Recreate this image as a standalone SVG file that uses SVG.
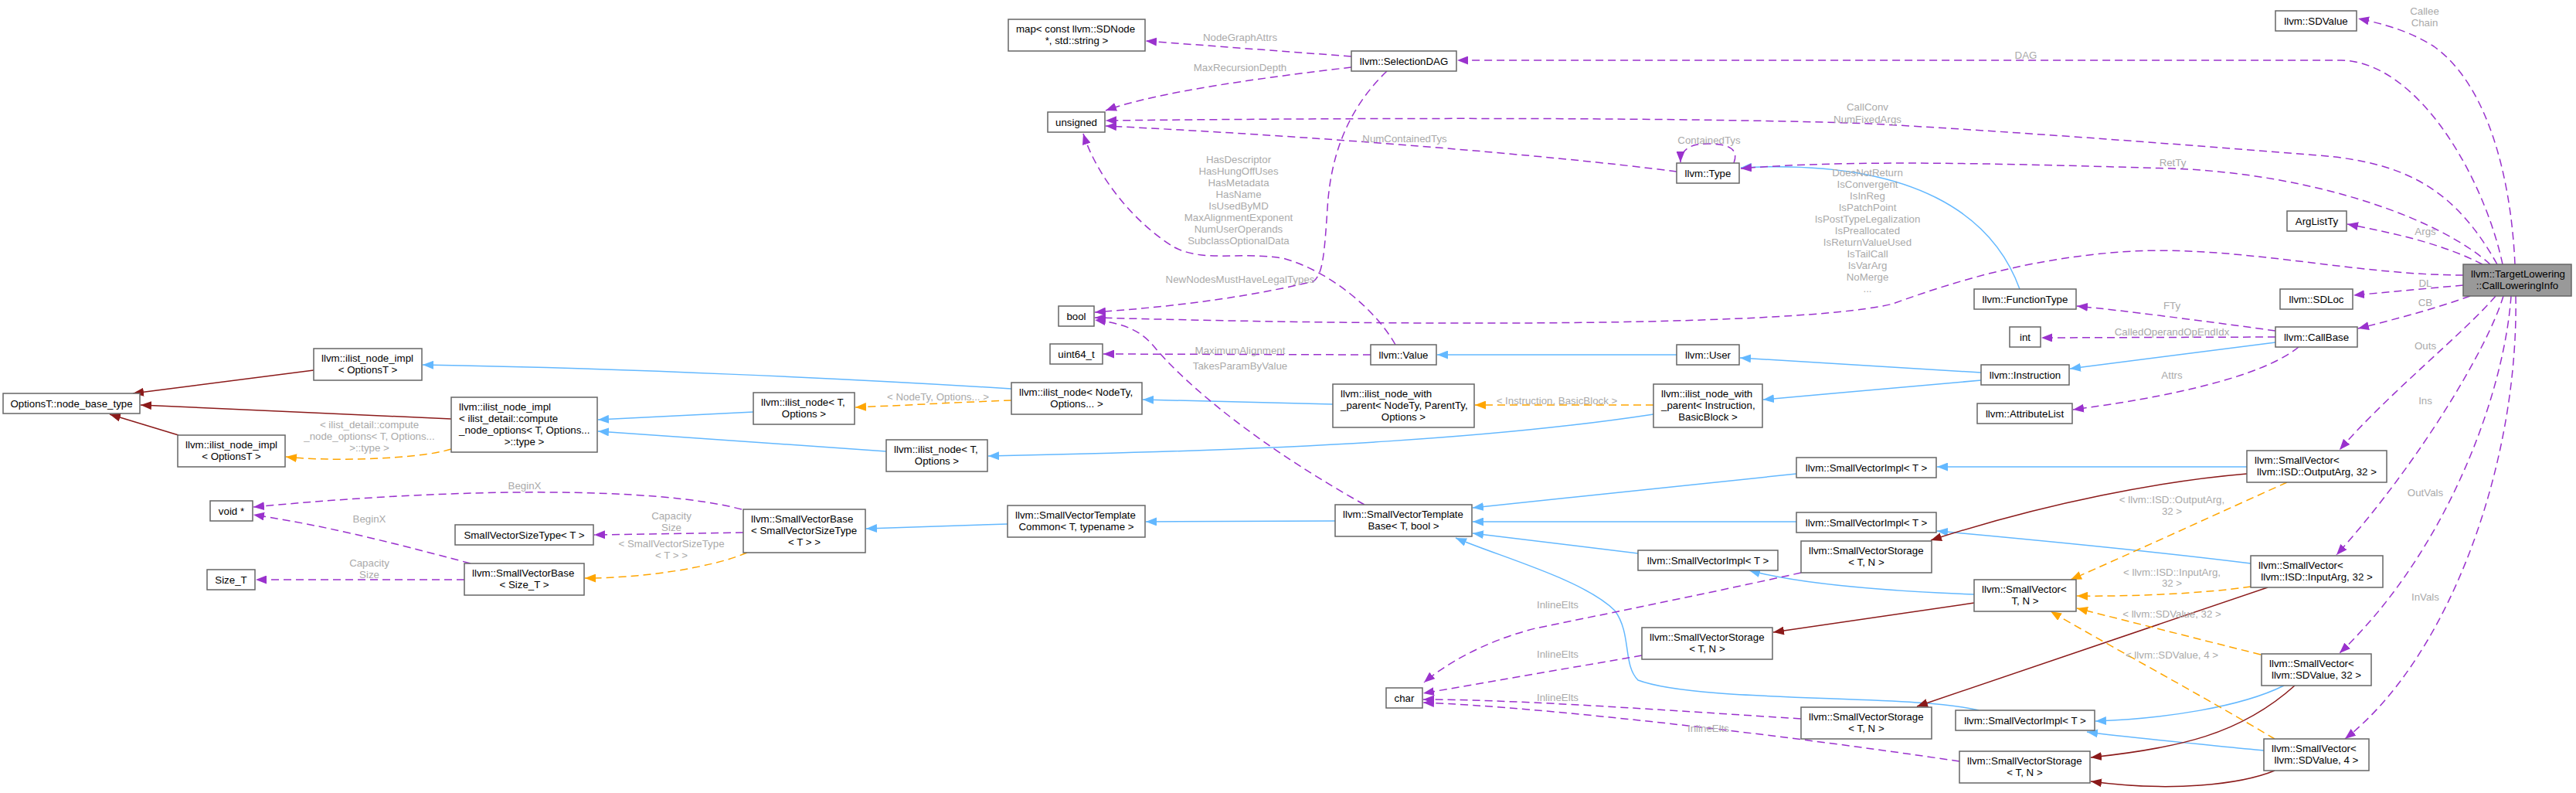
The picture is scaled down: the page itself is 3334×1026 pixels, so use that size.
<svg xmlns="http://www.w3.org/2000/svg" width="3334" height="1026" viewBox="0 0 3334 1026">
<style>
.n rect{fill:#fff;stroke:#666;stroke-width:1.5}
.n text{font-family:'Liberation Sans',Arial,Helvetica,sans-serif;font-size:13.3px;fill:#000}
.n text.c{text-anchor:middle}
#n_cli rect{fill:#999}
.e path{fill:none;stroke-width:1.5}
.pu{stroke:#9a32cd;stroke-dasharray:10,6;marker-end:url(#mp)}
.bl{stroke:#63b8ff;marker-end:url(#mb)}
.rd{stroke:#8b1a1a;marker-end:url(#mr)}
.or{stroke:#ffa500;stroke-dasharray:10,6;marker-end:url(#mo)}
.lb text{font-family:'Liberation Sans',Arial,Helvetica,sans-serif;font-size:13.3px;fill:#aaa;text-anchor:middle}
</style>
<defs>
<marker id="mp" markerUnits="userSpaceOnUse" markerWidth="14" markerHeight="11" refX="14" refY="5.5" orient="auto"><path d="M0,0 L14,5.5 L0,11 z" fill="#9a32cd"/></marker>
<marker id="mb" markerUnits="userSpaceOnUse" markerWidth="14" markerHeight="11" refX="14" refY="5.5" orient="auto"><path d="M0,0 L14,5.5 L0,11 z" fill="#63b8ff"/></marker>
<marker id="mr" markerUnits="userSpaceOnUse" markerWidth="14" markerHeight="11" refX="14" refY="5.5" orient="auto"><path d="M0,0 L14,5.5 L0,11 z" fill="#8b1a1a"/></marker>
<marker id="mo" markerUnits="userSpaceOnUse" markerWidth="14" markerHeight="11" refX="14" refY="5.5" orient="auto"><path d="M0,0 L14,5.5 L0,11 z" fill="#ffa500"/></marker>
</defs>
<rect width="3334" height="1026" fill="#fff"/>
<g id="connectors" class="e">
<path class="rd" d="M406,479 C330,489 250,499 172,509"/>
<path class="rd" d="M584,542 L182,524"/>
<path class="rd" d="M231,563 L142,536"/>
<path class="or" d="M584,581 C540,595 420,597 370,591"/>
<path class="bl" d="M1309,503 C1100,490 800,476 547,472"/>
<path class="or" d="M1309,518 C1250,520 1180,524 1107,527"/>
<path class="bl" d="M975,533 L774,543"/>
<path class="bl" d="M1147,584 L774,558"/>
<path class="or" d="M967,715 C920,735 830,748 757,748"/>
<path class="pu" d="M962,689 L769,692"/>
<path class="pu" d="M960,659 C850,630 600,630 328,656"/>
<path class="pu" d="M609,729 C500,700 420,680 328,666"/>
<path class="pu" d="M601,750 L331,750"/>
<path class="bl" d="M1304,678 L1121,684"/>
<path class="bl" d="M1728,674 L1483,675"/>
<path class="bl" d="M1725,523 L1479,517"/>
<path class="or" d="M2140,524 L1909,524"/>
<path class="bl" d="M2140,536 C1950,565 1700,582 1279,590"/>
<path class="bl" d="M2170,459 L1860,459"/>
<path class="bl" d="M2564,482 L2252,463"/>
<path class="bl" d="M2564,492 L2282,517"/>
<path class="bl" d="M2945,443 L2679,477"/>
<path class="bl" d="M2614,374 C2580,280 2480,205 2253,217"/>
<path class="pu" d="M1774,459 L1428,458"/>
<path class="pu" d="M1766,653 C1600,560 1520,480 1495,450 C1475,425 1450,418 1417,414"/>
<path class="pu" d="M1806,446 C1780,400 1720,350 1660,334 C1600,325 1560,340 1520,320 C1470,290 1420,230 1402,173"/>
<path class="pu" d="M1749,73 L1483,53"/>
<path class="pu" d="M1749,87 C1640,100 1500,118 1431,143"/>
<path class="pu" d="M1795,92 C1745,140 1722,200 1718,270 C1714,330 1712,355 1700,364 C1600,388 1500,398 1417,404"/>
<path class="pu" d="M2170,222 C2000,200 1700,176 1431,163"/>
<path class="pu" d="M2244,211 C2252,190 2232,186 2210,186 C2190,186 2175,192 2175,210"/>
<path class="pu" d="M3255,342 C3250,230 3220,110 3150,60 C3115,38 3080,30 3052,24"/>
<path class="pu" d="M3239,342 C3215,230 3130,80 3030,78 L1886,78"/>
<path class="pu" d="M3232,342 C3180,250 3120,210 3000,201 C2800,185 2600,170 2420,160 C2200,152 1800,152 1431,156"/>
<path class="pu" d="M3223,342 C3160,285 3000,225 2811,218 C2600,212 2400,206 2253,218"/>
<path class="pu" d="M3213,342 C3160,315 3100,302 3038,290"/>
<path class="pu" d="M3188,356 C3050,356 2900,318 2760,325 C2640,332 2540,360 2450,393 C2350,418 1950,425 1417,411"/>
<path class="pu" d="M3188,369 L3046,382"/>
<path class="pu" d="M3197,383 C3150,400 3100,413 3052,425"/>
<path class="pu" d="M2945,428 C2850,415 2750,402 2688,396"/>
<path class="pu" d="M2945,436 L2642,437"/>
<path class="pu" d="M2975,449 C2940,478 2850,508 2683,530"/>
<path class="pu" d="M3230,383 C3190,430 3090,510 3028,582"/>
<path class="pu" d="M3240,383 C3220,450 3130,600 3024,718"/>
<path class="pu" d="M3250,383 C3240,520 3160,720 3028,845"/>
<path class="pu" d="M3256,383 C3260,600 3170,850 3035,956"/>
<path class="bl" d="M2325,613 L1906,657"/>
<path class="bl" d="M2325,675 L1906,675"/>
<path class="bl" d="M2120,716 L1906,690"/>
<path class="bl" d="M2561,919 C2480,898 2200,910 2120,880 C2100,860 2112,820 2090,790 C2050,750 1940,720 1884,696"/>
<path class="bl" d="M2908,604 L2507,604"/>
<path class="bl" d="M2913,729 C2800,715 2650,700 2507,687"/>
<path class="bl" d="M2555,769 C2450,765 2330,756 2264,738"/>
<path class="bl" d="M2956,887 C2900,915 2800,930 2712,933"/>
<path class="bl" d="M2930,971 C2850,963 2760,955 2701,947"/>
<path class="rd" d="M2908,613 C2800,622 2650,650 2499,699"/>
<path class="rd" d="M2555,780 L2295,818"/>
<path class="rd" d="M2935,760 L2481,914"/>
<path class="rd" d="M2970,887 C2900,950 2820,968 2706,980"/>
<path class="rd" d="M2944,997 C2900,1015 2811,1025 2706,1011"/>
<path class="or" d="M2960,624 C2880,660 2760,715 2680,750"/>
<path class="or" d="M2913,759 C2850,768 2760,772 2688,771"/>
<path class="or" d="M2926,847 L2688,787"/>
<path class="or" d="M2944,956 C2850,900 2720,830 2654,791"/>
<path class="pu" d="M2331,741 C2200,770 2050,800 1987,813 C1920,830 1870,860 1843,883"/>
<path class="pu" d="M2125,848 L1842,897"/>
<path class="pu" d="M2331,930 C2100,915 1950,905 1842,905"/>
<path class="pu" d="M2536,985 C2300,950 2000,915 1842,909"/>
</g>
<g id="labels" class="lb">
<text x="478" y="553.5">&lt; ilist_detail::compute</text>
<text x="478" y="568.5">_node_options&lt; T, Options...</text>
<text x="478" y="583.5">&gt;::type &gt;</text>
<text x="478" y="675.5">BeginX</text>
<text x="478" y="732.5">Capacity</text>
<text x="478" y="747.5">Size</text>
<text x="679" y="632.5">BeginX</text>
<text x="869" y="671.5">Capacity</text>
<text x="869" y="686.5">Size</text>
<text x="869" y="707.5">&lt; SmallVectorSizeType</text>
<text x="869" y="722.5">&lt; T &gt; &gt;</text>
<text x="1214" y="517.5">&lt; NodeTy, Options... &gt;</text>
<text x="1605" y="52.5">NodeGraphAttrs</text>
<text x="1605" y="91.5">MaxRecursionDepth</text>
<text x="1818" y="183.5">NumContainedTys</text>
<text x="1603" y="210.5">HasDescriptor</text>
<text x="1603" y="225.5">HasHungOffUses</text>
<text x="1603" y="240.5">HasMetadata</text>
<text x="1603" y="255.5">HasName</text>
<text x="1603" y="270.5">IsUsedByMD</text>
<text x="1603" y="285.5">MaxAlignmentExponent</text>
<text x="1603" y="300.5">NumUserOperands</text>
<text x="1603" y="315.5">SubclassOptionalData</text>
<text x="1605" y="365.5">NewNodesMustHaveLegalTypes</text>
<text x="1605" y="457.5">MaximumAlignment</text>
<text x="1605" y="477.5">TakesParamByValue</text>
<text x="2212" y="185.5">ContainedTys</text>
<text x="2417" y="142.5">CallConv</text>
<text x="2417" y="158.5">NumFixedArgs</text>
<text x="2417" y="227.5">DoesNotReturn</text>
<text x="2417" y="242.5">IsConvergent</text>
<text x="2417" y="257.5">IsInReg</text>
<text x="2417" y="272.5">IsPatchPoint</text>
<text x="2417" y="287.5">IsPostTypeLegalization</text>
<text x="2417" y="302.5">IsPreallocated</text>
<text x="2417" y="317.5">IsReturnValueUsed</text>
<text x="2417" y="332.5">IsTailCall</text>
<text x="2417" y="347.5">IsVarArg</text>
<text x="2417" y="362.5">NoMerge</text>
<text x="2417" y="377.5">...</text>
<text x="2015" y="522.5">&lt; Instruction, BasicBlock &gt;</text>
<text x="2016" y="786.5">InlineElts</text>
<text x="2016" y="850.5">InlineElts</text>
<text x="2016" y="906.5">InlineElts</text>
<text x="2211" y="946.5">InlineElts</text>
<text x="3138" y="18.5">Callee</text>
<text x="3138" y="33.5">Chain</text>
<text x="2622" y="75.5">DAG</text>
<text x="2812" y="214.5">RetTy</text>
<text x="3139" y="303.5">Args</text>
<text x="3139" y="370.5">DL</text>
<text x="3139" y="395.5">CB</text>
<text x="2811" y="399.5">FTy</text>
<text x="2811" y="433.5">CalledOperandOpEndIdx</text>
<text x="3139" y="451.5">Outs</text>
<text x="2811" y="489.5">Attrs</text>
<text x="3139" y="522.5">Ins</text>
<text x="3139" y="641.5">OutVals</text>
<text x="3139" y="776.5">InVals</text>
<text x="2811" y="650.5">&lt; llvm::ISD::OutputArg,</text>
<text x="2811" y="665.5">32 &gt;</text>
<text x="2811" y="744.5">&lt; llvm::ISD::InputArg,</text>
<text x="2811" y="758.5">32 &gt;</text>
<text x="2811" y="798.5">&lt; llvm::SDValue, 32 &gt;</text>
<text x="2811" y="851.5">&lt; llvm::SDValue, 4 &gt;</text>
</g>
<g id="n_optionsT" class="n"><rect x="4" y="509" width="177" height="26"/><text class="c" x="92.5" y="526.5">OptionsT::node_base_type</text></g>
<g id="n_ilist_impl_a" class="n"><rect x="406" y="451" width="140" height="41"/><text x="416" y="468">llvm::ilist_node_impl</text><text class="c" x="476" y="483">&lt; OptionsT &gt;</text></g>
<g id="n_ilist_impl_b" class="n"><rect x="230" y="563" width="139" height="41"/><text x="240" y="580">llvm::ilist_node_impl</text><text class="c" x="299.5" y="595">&lt; OptionsT &gt;</text></g>
<g id="n_ilist_impl_compute" class="n"><rect x="584" y="514" width="189" height="71"/><text x="594" y="531">llvm::ilist_node_impl</text><text x="594" y="546">&lt; ilist_detail::compute</text><text x="594" y="561">_node_options&lt; T, Options...</text><text class="c" x="678.5" y="576">&gt;::type &gt;</text></g>
<g id="n_voidp" class="n"><rect x="272" y="648" width="55" height="26"/><text class="c" x="299.5" y="665.5">void *</text></g>
<g id="n_size_t" class="n"><rect x="268" y="737" width="62" height="26"/><text class="c" x="299" y="754.5">Size_T</text></g>
<g id="n_svsizetype" class="n"><rect x="589" y="679" width="179" height="26"/><text class="c" x="678.5" y="696.5">SmallVectorSizeType&lt; T &gt;</text></g>
<g id="n_svbase_size" class="n"><rect x="601" y="729" width="155" height="41"/><text x="611" y="746">llvm::SmallVectorBase</text><text class="c" x="678.5" y="761">&lt; Size_T &gt;</text></g>
<g id="n_ilist_node_a" class="n"><rect x="975" y="508" width="131" height="41"/><text x="985" y="525">llvm::ilist_node&lt; T,</text><text class="c" x="1040.5" y="540">Options &gt;</text></g>
<g id="n_ilist_node_b" class="n"><rect x="1147" y="569" width="131" height="41"/><text x="1157" y="586">llvm::ilist_node&lt; T,</text><text class="c" x="1212.5" y="601">Options &gt;</text></g>
<g id="n_svbase_svst" class="n"><rect x="962" y="659" width="158" height="56"/><text x="972" y="676">llvm::SmallVectorBase</text><text x="972" y="691">&lt; SmallVectorSizeType</text><text class="c" x="1041" y="706">&lt; T &gt; &gt;</text></g>
<g id="n_map" class="n"><rect x="1305" y="25" width="177" height="41"/><text x="1315" y="42">map&lt; const llvm::SDNode</text><text class="c" x="1393.5" y="57">*, std::string &gt;</text></g>
<g id="n_unsigned" class="n"><rect x="1356" y="145" width="74" height="26"/><text class="c" x="1393" y="162.5">unsigned</text></g>
<g id="n_bool" class="n"><rect x="1370" y="396" width="46" height="26"/><text class="c" x="1393" y="413.5">bool</text></g>
<g id="n_uint64" class="n"><rect x="1359" y="445" width="68" height="26"/><text class="c" x="1393" y="462.5">uint64_t</text></g>
<g id="n_ilist_node_nodety" class="n"><rect x="1309" y="495" width="169" height="41"/><text x="1319" y="512">llvm::ilist_node&lt; NodeTy,</text><text class="c" x="1393.5" y="527">Options... &gt;</text></g>
<g id="n_svtc" class="n"><rect x="1304" y="654" width="178" height="41"/><text x="1314" y="671">llvm::SmallVectorTemplate</text><text class="c" x="1393" y="686">Common&lt; T, typename &gt;</text></g>
<g id="n_seldag" class="n"><rect x="1749" y="66" width="136" height="26"/><text class="c" x="1817" y="83.5">llvm::SelectionDAG</text></g>
<g id="n_value" class="n"><rect x="1774" y="446" width="85" height="26"/><text class="c" x="1816.5" y="463.5">llvm::Value</text></g>
<g id="n_ilnwp_nodety" class="n"><rect x="1725" y="497" width="183" height="56"/><text x="1735" y="514">llvm::ilist_node_with</text><text x="1735" y="529">_parent&lt; NodeTy, ParentTy,</text><text class="c" x="1816.5" y="544">Options &gt;</text></g>
<g id="n_svtb" class="n"><rect x="1728" y="653" width="177" height="41"/><text x="1738" y="670">llvm::SmallVectorTemplate</text><text class="c" x="1816.5" y="685">Base&lt; T, bool &gt;</text></g>
<g id="n_char" class="n"><rect x="1794" y="890" width="47" height="26"/><text class="c" x="1817.5" y="907.5">char</text></g>
<g id="n_type" class="n"><rect x="2170" y="211" width="81" height="26"/><text class="c" x="2210.5" y="228.5">llvm::Type</text></g>
<g id="n_user" class="n"><rect x="2170" y="446" width="81" height="26"/><text class="c" x="2210.5" y="463.5">llvm::User</text></g>
<g id="n_ilnwp_inst" class="n"><rect x="2140" y="497" width="141" height="56"/><text x="2150" y="514">llvm::ilist_node_with</text><text x="2150" y="529">_parent&lt; Instruction,</text><text class="c" x="2210.5" y="544">BasicBlock &gt;</text></g>
<g id="n_svimpl_1" class="n"><rect x="2325" y="592" width="181" height="26"/><text class="c" x="2415.5" y="609.5">llvm::SmallVectorImpl&lt; T &gt;</text></g>
<g id="n_svimpl_2" class="n"><rect x="2325" y="663" width="181" height="26"/><text class="c" x="2415.5" y="680.5">llvm::SmallVectorImpl&lt; T &gt;</text></g>
<g id="n_svimpl_3" class="n"><rect x="2120" y="712" width="181" height="26"/><text class="c" x="2210.5" y="729.5">llvm::SmallVectorImpl&lt; T &gt;</text></g>
<g id="n_svstor_1" class="n"><rect x="2331" y="700" width="169" height="41"/><text x="2341" y="717">llvm::SmallVectorStorage</text><text class="c" x="2415.5" y="732">&lt; T, N &gt;</text></g>
<g id="n_svstor_2" class="n"><rect x="2125" y="812" width="169" height="41"/><text x="2135" y="829">llvm::SmallVectorStorage</text><text class="c" x="2209.5" y="844">&lt; T, N &gt;</text></g>
<g id="n_svstor_3" class="n"><rect x="2331" y="915" width="169" height="41"/><text x="2341" y="932">llvm::SmallVectorStorage</text><text class="c" x="2415.5" y="947">&lt; T, N &gt;</text></g>
<g id="n_svimpl_4" class="n"><rect x="2531" y="919" width="180" height="26"/><text class="c" x="2621" y="936.5">llvm::SmallVectorImpl&lt; T &gt;</text></g>
<g id="n_svstor_4" class="n"><rect x="2536" y="972" width="169" height="41"/><text x="2546" y="989">llvm::SmallVectorStorage</text><text class="c" x="2620.5" y="1004">&lt; T, N &gt;</text></g>
<g id="n_functype" class="n"><rect x="2555" y="374" width="132" height="26"/><text class="c" x="2621" y="391.5">llvm::FunctionType</text></g>
<g id="n_int" class="n"><rect x="2601" y="423" width="40" height="26"/><text class="c" x="2621" y="440.5">int</text></g>
<g id="n_instruction" class="n"><rect x="2564" y="472" width="114" height="26"/><text class="c" x="2621" y="489.5">llvm::Instruction</text></g>
<g id="n_attrlist" class="n"><rect x="2559" y="522" width="123" height="26"/><text class="c" x="2620.5" y="539.5">llvm::AttributeList</text></g>
<g id="n_smallvector_tn" class="n"><rect x="2555" y="750" width="132" height="41"/><text x="2565" y="767">llvm::SmallVector&lt;</text><text class="c" x="2621" y="782">T, N &gt;</text></g>
<g id="n_sdvalue" class="n"><rect x="2945" y="14" width="105" height="26"/><text class="c" x="2997.5" y="31.5">llvm::SDValue</text></g>
<g id="n_arglistty" class="n"><rect x="2960" y="273" width="77" height="26"/><text class="c" x="2998.5" y="290.5">ArgListTy</text></g>
<g id="n_sdloc" class="n"><rect x="2951" y="374" width="94" height="26"/><text class="c" x="2998" y="391.5">llvm::SDLoc</text></g>
<g id="n_callbase" class="n"><rect x="2945" y="423" width="106" height="26"/><text class="c" x="2998" y="440.5">llvm::CallBase</text></g>
<g id="n_cli" class="n"><rect x="3188" y="342" width="140" height="41"/><text x="3198" y="359">llvm::TargetLowering</text><text class="c" x="3258" y="374">::CallLoweringInfo</text></g>
<g id="n_sv_outputarg" class="n"><rect x="2908" y="583" width="181" height="41"/><text x="2918" y="600">llvm::SmallVector&lt;</text><text class="c" x="2998.5" y="615">llvm::ISD::OutputArg, 32 &gt;</text></g>
<g id="n_sv_inputarg" class="n"><rect x="2913" y="719" width="171" height="41"/><text x="2923" y="736">llvm::SmallVector&lt;</text><text class="c" x="2998.5" y="751">llvm::ISD::InputArg, 32 &gt;</text></g>
<g id="n_sv_sdvalue32" class="n"><rect x="2927" y="846" width="142" height="41"/><text x="2937" y="863">llvm::SmallVector&lt;</text><text class="c" x="2998" y="878">llvm::SDValue, 32 &gt;</text></g>
<g id="n_sv_sdvalue4" class="n"><rect x="2930" y="956" width="136" height="41"/><text x="2940" y="973">llvm::SmallVector&lt;</text><text class="c" x="2998" y="988">llvm::SDValue, 4 &gt;</text></g>
</svg>
